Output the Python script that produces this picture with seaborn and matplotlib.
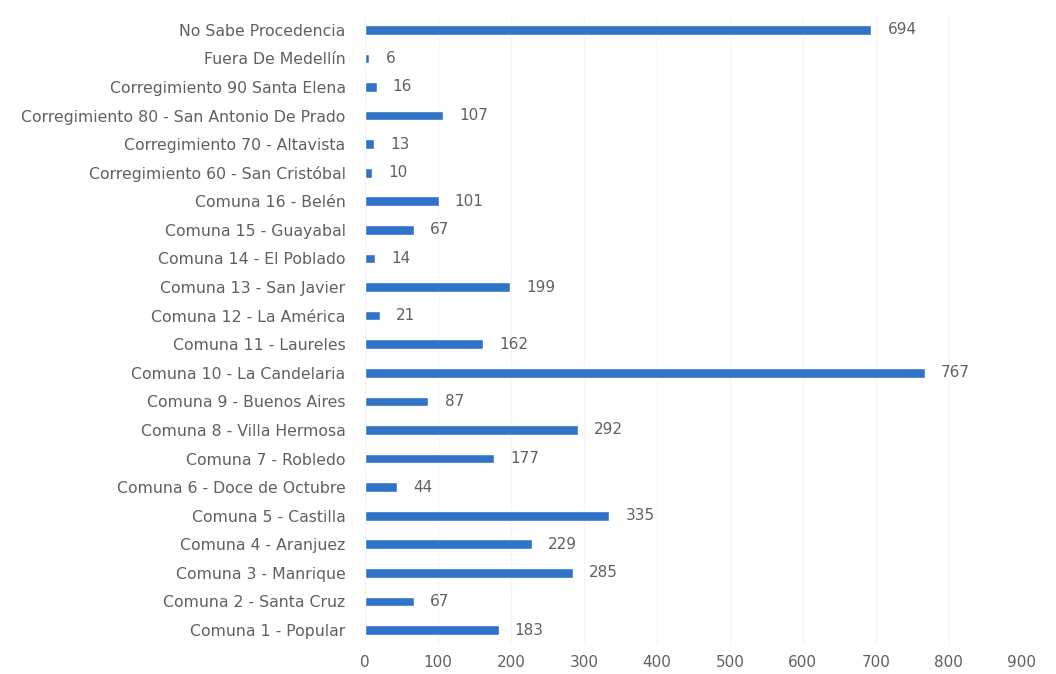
import matplotlib
matplotlib.use("Agg")
import matplotlib.pyplot as plt
import seaborn as sns
import pandas as pd

categories = [
    "No Sabe Procedencia",
    "Fuera De Medellín",
    "Corregimiento 90 Santa Elena",
    "Corregimiento 80 - San Antonio De Prado",
    "Corregimiento 70 - Altavista",
    "Corregimiento 60 - San Cristóbal",
    "Comuna 16 - Belén",
    "Comuna 15 - Guayabal",
    "Comuna 14 - El Poblado",
    "Comuna 13 - San Javier",
    "Comuna 12 - La América",
    "Comuna 11 - Laureles",
    "Comuna 10 - La Candelaria",
    "Comuna 9 - Buenos Aires",
    "Comuna 8 - Villa Hermosa",
    "Comuna 7 - Robledo",
    "Comuna 6 - Doce de Octubre",
    "Comuna 5 - Castilla",
    "Comuna 4 - Aranjuez",
    "Comuna 3 - Manrique",
    "Comuna 2 - Santa Cruz",
    "Comuna 1 - Popular",
]
values = [694, 6, 16, 107, 13, 10, 101, 67, 14, 199, 21, 162, 767, 87, 292,
          177, 44, 335, 229, 285, 67, 183]
x_ticks = [0, 100, 200, 300, 400, 500, 600, 700, 800, 900]

df = pd.DataFrame({"categoria": categories, "valor": values})

sns.set_theme(style="white")
plt.rcParams["font.family"] = ["DejaVu Sans"]

fig = plt.figure(figsize=(10.56, 6.74), dpi=100)
ax = fig.add_axes([0.3456, 0.044, 0.622, 0.933])

bar_color = "#2f74c8"
sns.barplot(data=df, y="categoria", x="valor", orient="h", color=bar_color,
            width=0.34, saturation=1, ax=ax, order=categories)

ax.set_xlim(0, 900)
ax.set_ylim(len(categories) - 0.5, -0.5)
ax.set_xticks(x_ticks)
ax.set_xticklabels([str(t) for t in x_ticks])
ax.set_xlabel("")
ax.set_ylabel("")

for s in ax.spines.values():
    s.set_visible(False)
ax.grid(axis="x", color="#f4f4f4", linewidth=0.8)
ax.set_axisbelow(True)
ax.tick_params(axis="y", length=0, pad=14, labelsize=11.3, labelcolor="#606060")
ax.tick_params(axis="x", length=0, pad=8, labelsize=11, labelcolor="#606060")

for i, v in enumerate(values):
    ax.text(v + 22, i, str(v), va="center", ha="left", fontsize=11, color="#606060")

fig.savefig("out.png", dpi=100)
